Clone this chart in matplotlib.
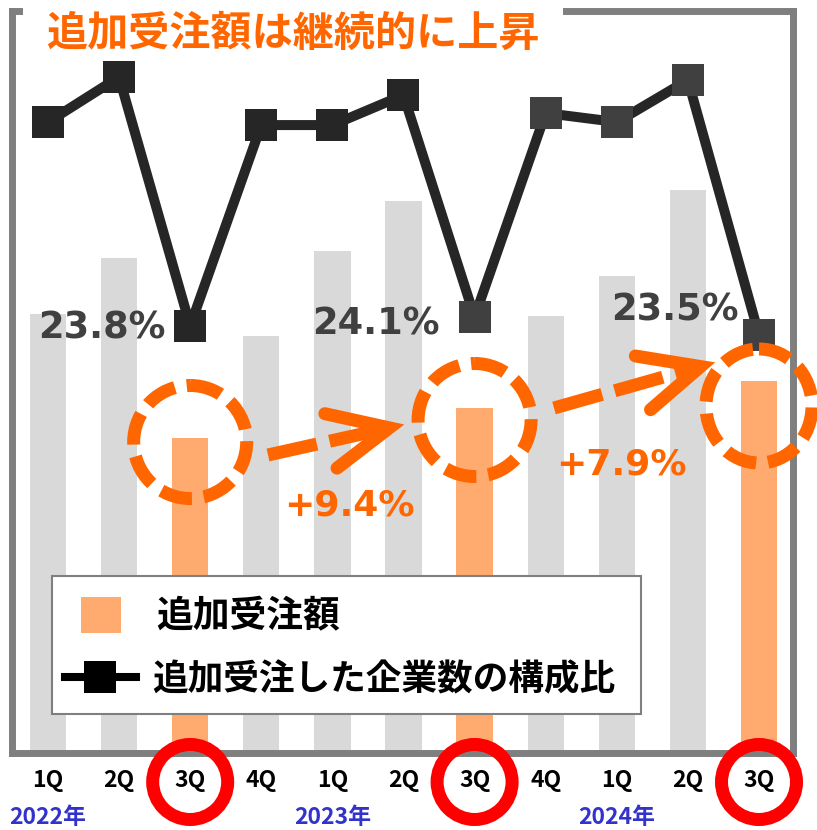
import numpy as np
import matplotlib
matplotlib.use("Agg")
import matplotlib.pyplot as plt
from matplotlib.patches import Ellipse, Rectangle
from matplotlib.lines import Line2D

plt.rcParams['font.family'] = ['Noto Sans CJK JP', 'DejaVu Sans']

# --- data ---
quarters = ["1Q", "2Q", "3Q", "4Q", "1Q", "2Q", "3Q", "4Q", "1Q", "2Q", "3Q"]
years = ["2022年", "2023年", "2024年"]
year_pos = [0, 4, 8]
# additional order amount, index (3Q 2022 = 100)
amount_index = [139.3, 157.2, 100.0, 132.3, 159.4, 175.3, 109.4, 138.7, 151.4, 178.8, 118.0]
# share of companies that received additional orders (%)
company_ratio = [30.6, 32.1, 23.8, 30.5, 30.5, 31.5, 24.1, 30.9, 30.6, 32.0, 23.5]
highlight = [2, 6, 10]
ratio_labels = ["23.8%", "24.1%", "23.5%"]
growth_labels = ["+9.4%", "+7.9%"]

title = "追加受注額は継続的に上昇"
legend_bar = "追加受注額"
legend_line = "追加受注した企業数の構成比"

ORANGE = "#FF6600"
BAR_ORANGE = "#FFAB70"
BAR_GRAY = "#D9D9D9"
W, H = 817, 830
PT = 0.72  # points per pixel at dpi 100

fig = plt.figure(figsize=(W / 100, H / 100), dpi=100)
ax = fig.add_axes([11.5 / W, 1 - 752.5 / H, (793 - 11.5) / W, (752.5 - 10.5) / H])

x = np.arange(len(quarters))
colors = [BAR_ORANGE if i in highlight else BAR_GRAY for i in x]
ax.bar(x, amount_index, width=0.51, color=colors, zorder=2)
ax.set_xlim(-0.513, 10.478)
ax.set_ylim(0, 235.9)
ax.set_yticks([])
ax.set_xticks(x, quarters, fontsize=16.5, fontweight='bold')
ax.tick_params(axis='x', length=0, pad=12)
for s in ax.spines.values():
    s.set_color('#7F7F7F')
    s.set_linewidth(5)

ax2 = ax.twinx()
ax2.set_ylim(9.58, 34.32)
ax2.set_yticks([])
for s in ax2.spines.values():
    s.set_visible(False)
ax2.plot(x, company_ratio, color='#262626', lw=7.2, zorder=3, clip_on=False)
mcol = ['#262626'] * 6 + ['#404040'] * 5
for xi, yi, c in zip(x, company_ratio, mcol):
    ax2.plot(xi, yi, 's', ms=23, color=c, mew=0, zorder=4, clip_on=False)

label_off = [(-25, 2.5), (-35, -3), (-20, 29.5)]
for i, lab, (dx, dy) in zip(highlight, ratio_labels, label_off):
    ax2.annotate(lab, (i, company_ratio[i]), xytext=(dx * PT, dy * PT),
                 textcoords='offset points', ha='right', va='center_baseline',
                 fontsize=26.5, fontweight='bold', color='#404040',
                 family='DejaVu Sans', zorder=5)

# overlay in pixel coordinates for the annotations
ov = fig.add_axes([0, 0, 1, 1], zorder=10)
ov.set_xlim(0, W)
ov.set_ylim(H, 0)
ov.axis('off')
ov.patch.set_alpha(0)


def xpx(i):
    return ax.transData.transform((i, 0))[0]


# title
ov.add_patch(Rectangle((23, 0), 540, 58, fc='white', ec='none'))
ov.text(46, 34, title, fontsize=29.6, fontweight='bold', color=ORANGE,
        ha='left', va='center')

# dashed circles around the 3Q bars
circ = [(442, 113, 113), (420, 113, 113), (406, 106, 114)]
for i, (cy, w, h) in zip(highlight, circ):
    ov.add_patch(Ellipse((xpx(i), cy), w, h, fill=False, ec=ORANGE,
                         lw=13 * PT, ls=(0, (2.46, 0.92))))


def arrow(start, tip, arm=66, ang=25):
    start = np.array(start, float)
    tip = np.array(tip, float)
    u = (tip - start) / np.linalg.norm(tip - start)
    vert = tip - 13 * u
    ov.add_line(Line2D([start[0], vert[0]], [start[1], vert[1]], color=ORANGE,
                       lw=13 * PT, ls=(0, (3.85, 1.0)), dash_capstyle='butt'))
    pts = []
    for a in (ang, -ang):
        r = np.radians(a)
        back = -u
        d = np.array([back[0] * np.cos(r) - back[1] * np.sin(r),
                      back[0] * np.sin(r) + back[1] * np.cos(r)])
        pts.append(vert + arm * d)
    ov.add_line(Line2D([pts[0][0], vert[0], pts[1][0]], [pts[0][1], vert[1], pts[1][1]],
                       color=ORANGE, lw=13 * PT, solid_capstyle='round',
                       solid_joinstyle='miter'))


arrow((268, 455), (402, 425))
arrow((554, 408), (713, 363))

for (gx, gy), lab in zip([(349.5, 502), (621.5, 461)], growth_labels):
    ov.text(gx, gy, lab, ha='center', va='center_baseline', fontsize=26,
            fontweight='bold', color=ORANGE, family='DejaVu Sans')

# legend
ov.add_patch(Rectangle((52, 576), 589, 138, fc='white', ec='#7F7F7F', lw=1.5))
ov.add_patch(Rectangle((81, 597), 40, 36, fc=BAR_ORANGE, ec='none'))
ov.text(156, 617, legend_bar, fontsize=26.5, fontweight='bold', color='black',
        ha='left', va='center')
ov.add_line(Line2D([65, 136], [677, 677], color='black', lw=5.8))
ov.plot(100.5, 677, 's', ms=23, color='black', mew=0)
ov.text(152, 680, legend_line, fontsize=25.7, fontweight='bold', color='black',
        ha='left', va='center')

# red circles on the 3Q ticks and years
for i in highlight:
    ov.add_patch(Ellipse((xpx(i), 782), 75, 75, fill=False, ec='#FF0000', lw=13 * PT))
for p, yr in zip(year_pos, years):
    ov.text(xpx(p), 817, yr, ha='center', va='center', fontsize=16.5,
            fontweight='bold', color='#3333CC')

fig.savefig("out.png", dpi=100)
